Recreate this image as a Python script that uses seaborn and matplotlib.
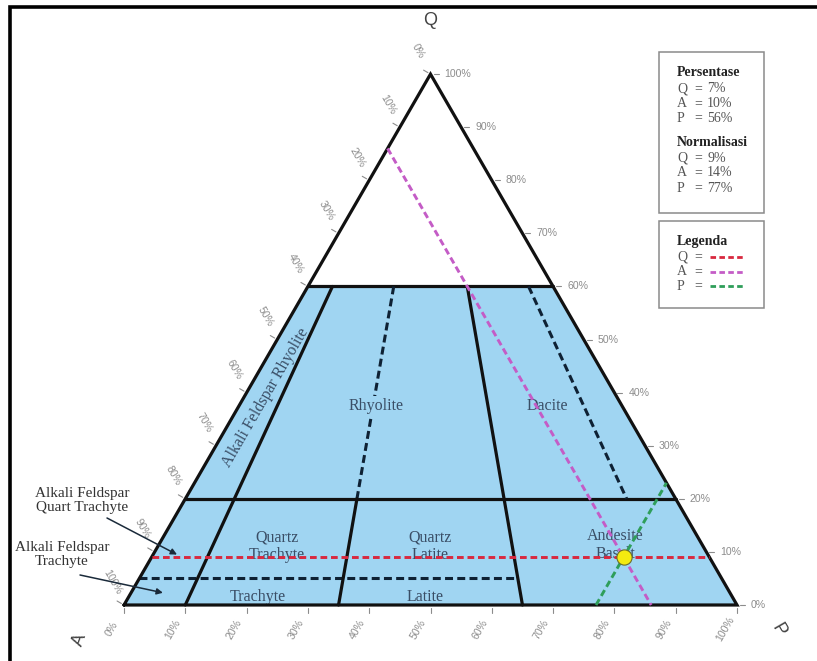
import numpy as np
import pandas as pd
import matplotlib
matplotlib.use("Agg")
import matplotlib.pyplot as plt
from matplotlib.lines import Line2D
from matplotlib.patches import Polygon, Rectangle
import seaborn as sns

# ---- modal composition of the sample (percent) ----
components = ["Q", "A", "P"]
persentase = [7, 10, 56]
normalisasi = [9, 14, 77]

# ---- QAPF field boundaries (Streckeisen) ----
q_field_levels = [60, 20]          # solid horizontal boundaries (Q %)
q_trachyte_level = 5               # dashed boundary Q = 5 %
ratio_solid = [10, 65]             # P/(A+P) %, solid from Q=60 to base
ratio_split = 35                   # dashed Q 60-20, solid Q 20-0
ratio_dashed = 90                  # dashed Q 60-20
tick_values = list(range(0, 101, 10))

field_labels = ["Alkali Feldspar Rhyolite", "Rhyolite", "Dacite",
                "Quartz\nTrachyte", "Quartz\nLatite", "Andesite\nBasalt",
                "Trachyte", "Latite"]
outer_labels = ["Alkali Feldspar\nQuart Trachyte", "Alkali Feldspar\nTrachyte"]

# ---- styling ----
FIELD_BLUE = "#a0d5f2"
DASH_NAVY = "#0e2134"
TEXT_SLATE = "#3a4e66"
TICK_GREY = "#8c8c8c"
line_colors = {"Q": "#d8283f", "A": "#c45cc6", "P": "#2f9e5a"}
SERIF = ["Liberation Serif", "DejaVu Serif"]
SANS = ["Liberation Sans", "DejaVu Sans"]

H = np.sqrt(3) / 2
PX = 1 / 613.0   # one pixel in data units


def tern(q, a, p):
    """Ternary (Q, A, P) -> cartesian, A at (0,0), P at (1,0), Q at top."""
    s = q + a + p
    qn, pn = q / s, p / s
    return pn + qn / 2, qn * H


def ratio_pt(q, r):
    """Point at Q=q (%) on the line of constant P/(A+P)=r (%)."""
    rest = 100 - q
    return tern(q, rest * (1 - r / 100), rest * r / 100)


sns.set_theme(style="white")
plt.rcParams["font.family"] = SANS

fig = plt.figure(figsize=(8.17, 6.61), dpi=100)
ax = fig.add_axes([0, 0, 1, 1])
ax.set_xlim(-124 * PX, 693 * PX)
ax.set_ylim(-56 * PX, 605 * PX)
ax.axis("off")

# ---- blue field area (Q <= 60) ----
qtop = q_field_levels[0]
poly = [tern(0, 100, 0), tern(0, 0, 100), tern(qtop, 0, 100 - qtop), tern(qtop, 100 - qtop, 0)]
ax.add_patch(Polygon(poly, closed=True, facecolor=FIELD_BLUE, edgecolor="none", zorder=1))

# ---- triangle outline ----
outline = [tern(0, 100, 0), tern(0, 0, 100), tern(100, 0, 0), tern(0, 100, 0)]
ax.plot(*zip(*outline), color="#111111", lw=2.3, zorder=4, solid_joinstyle="miter")

# ---- horizontal boundaries ----
for q in q_field_levels:
    p1, p2 = tern(q, 100 - q, 0), tern(q, 0, 100 - q)
    ax.plot([p1[0], p2[0]], [p1[1], p2[1]], color="#111111", lw=2.3, zorder=3)
p1 = ratio_pt(q_trachyte_level, 0)
p2 = ratio_pt(q_trachyte_level, 65)
ax.plot([p1[0], p2[0]], [p1[1], p2[1]], color=DASH_NAVY, lw=2.2, zorder=3,
        dashes=(2.6, 1.4))

# ---- radial boundaries ----
for r in ratio_solid:
    a, b = ratio_pt(60, r), ratio_pt(0, r)
    ax.plot([a[0], b[0]], [a[1], b[1]], color="#111111", lw=2.3, zorder=3)
a, b, c = ratio_pt(60, ratio_split), ratio_pt(20, ratio_split), ratio_pt(0, ratio_split)
ax.plot([a[0], b[0]], [a[1], b[1]], color=DASH_NAVY, lw=2.2, zorder=3, dashes=(2.6, 1.4))
ax.plot([b[0], c[0]], [b[1], c[1]], color="#111111", lw=2.3, zorder=3)
a, b = ratio_pt(60, ratio_dashed), ratio_pt(20, ratio_dashed)
ax.plot([a[0], b[0]], [a[1], b[1]], color=DASH_NAVY, lw=2.2, zorder=3, dashes=(2.6, 1.4))

# ---- field names ----
label_pos = {  # (Q, P) positions in percent, remainder is A
    "Alkali Feldspar Rhyolite": (39.1, 3.6),
    "Rhyolite": (37.4, 22.5),
    "Dacite": (37.4, 50.3),
    "Quartz\nTrachyte": (11.1, 19.4),
    "Quartz\nLatite": (11.1, 44.4),
    "Andesite\nBasalt": (11.3, 74.5),
    "Trachyte": (1.5, 21.1),
    "Latite": (1.5, 48.3),
}
for name in field_labels:
    q, p = label_pos[name]
    x, y = tern(q, 100 - q - p, p)
    kw = dict(ha="center", va="center", fontsize=11.5, color=TEXT_SLATE,
              family=SERIF, zorder=2, linespacing=1.15)
    if name == "Alkali Feldspar Rhyolite":
        kw["rotation"] = 60
    if name == "Rhyolite":
        kw["bbox"] = dict(boxstyle="square,pad=0.15", fc=FIELD_BLUE, ec="none")
        kw["zorder"] = 3.5
    ax.text(x, y, name, **kw)

# ---- composition lines through the normalised point ----
qn, an, pn = normalisasi
segs = {
    "Q": [tern(qn, 100 - qn, 0), tern(qn, 0, 100 - qn)],
    "A": [tern(100 - an, an, 0), tern(0, an, 100 - an)],
    "P": [tern(0, 100 - pn, pn), tern(100 - pn, 0, pn)],
}
rows = []
for k, (s, e) in segs.items():
    rows.append({"line": k, "x": s[0], "y": s[1]})
    rows.append({"line": k, "x": e[0], "y": e[1]})
df_lines = pd.DataFrame(rows)
sns.lineplot(data=df_lines, x="x", y="y", hue="line", style="line",
             palette=line_colors, dashes={k: (2.3, 1.3) for k in components},
             sort=False, estimator=None, units="line", lw=2.1, legend=False,
             ax=ax, zorder=5)

px, py = tern(qn, an, pn)
sns.scatterplot(x=[px], y=[py], s=120, color="#f4ea10", edgecolor="#6b6b2a",
                linewidth=0.8, ax=ax, zorder=6, legend=False)

# ---- axis ticks and labels ----
tick_len = 5 * PX
TICK_FS = 7.6
for v in tick_values:
    # right edge: Q %
    x, y = tern(v, 0, 100 - v)
    ax.plot([x + 3 * PX, x + 3 * PX + tick_len], [y, y], color=TICK_GREY, lw=0.8, zorder=2)
    ax.text(x + 14 * PX, y, f"{v}%", ha="left", va="center", fontsize=TICK_FS,
            color=TICK_GREY)
    # bottom edge: P %
    x, y = tern(0, 100 - v, v)
    ax.plot([x, x], [y - 3 * PX, y - 3 * PX - tick_len], color=TICK_GREY, lw=0.8, zorder=2)
    ax.text(x - 12 * PX, y - 24 * PX, f"{v}%", ha="center", va="center",
            fontsize=TICK_FS, color=TICK_GREY, rotation=60)
    # left edge: A %
    x, y = tern(100 - v, v, 0)
    nx, ny = -np.sqrt(3) / 2, 0.5
    ax.plot([x + nx * 3 * PX, x + nx * (3 * PX + tick_len)],
            [y + ny * 3 * PX, y + ny * (3 * PX + tick_len)], color=TICK_GREY, lw=0.8, zorder=2)
    ax.text(x - 12 * PX, y + 23 * PX, f"{v}%", ha="center", va="center",
            fontsize=TICK_FS, color=TICK_GREY, rotation=-60)

# vertex letters
qx, qy = tern(100, 0, 0)
ax.text(qx, qy + 54 * PX, "Q", ha="center", va="center", fontsize=13, color="#444444")
ax_, ay_ = tern(0, 100, 0)
ax.text(ax_ - 44 * PX, ay_ - 35 * PX, "A", ha="center", va="center", fontsize=13,
        color="#444444", rotation=70)
pvx, pvy = tern(0, 0, 100)
ax.text(pvx + 41 * PX, pvy - 25 * PX, "P", ha="center", va="center", fontsize=13,
        color="#444444", rotation=-60)

# ---- callouts for the narrow alkali-feldspar fields ----
callouts = [
    (outer_labels[0], (82, 501), (107, 518), (9.5, 3.9)),
    (outer_labels[1], (62, 554), (80, 575), (2.3, 5.2)),
]
for text, tpos, apos, (q, p) in callouts:
    fig.text(tpos[0] / 817, 1 - tpos[1] / 661, text, ha="center", va="center",
             fontsize=11, color="#333333", family=SERIF, linespacing=1.1)
    tx, ty = tern(q, 100 - q - p, p)
    ax.annotate("", xy=(tx, ty), xycoords="data",
                xytext=(apos[0] / 817, 1 - apos[1] / 661), textcoords="figure fraction",
                arrowprops=dict(arrowstyle="-|>", color="#1a2a3a", lw=1.1,
                                mutation_scale=9, shrinkA=0, shrinkB=0), zorder=7)

# ---- info boxes ----
def fx(px_):
    return px_ / 817


def fy(py_):
    return 1 - py_ / 661


for (x0, y0, x1, y1) in [(659, 52, 764, 213), (659, 221, 764, 308)]:
    fig.add_artist(Rectangle((fx(x0), fy(y1)), fx(x1) - fx(x0), fy(y0) - fy(y1),
                             transform=fig.transFigure, fill=False, ec="#8a8a8a", lw=1.1))

col_letter, col_eq, col_val = 677, 694, 707
fig.text(fx(col_letter), fy(73), "Persentase", fontsize=10, fontweight="bold",
         family=SERIF, color="#222222", va="center")
for i, (c, v) in enumerate(zip(components, persentase)):
    yy = fy(89 + 14.5 * i)
    fig.text(fx(col_letter), yy, c, fontsize=10, family=SERIF, color="#555555", va="center")
    fig.text(fx(col_eq), yy, "=", fontsize=10, family=SERIF, color="#555555", va="center")
    fig.text(fx(col_val), yy, f"{v}%", fontsize=10, family=SERIF, color="#555555", va="center")
fig.text(fx(col_letter), fy(142), "Normalisasi", fontsize=10, fontweight="bold",
         family=SERIF, color="#222222", va="center")
for i, (c, v) in enumerate(zip(components, normalisasi)):
    yy = fy(158 + 15 * i)
    fig.text(fx(col_letter), yy, c, fontsize=10, family=SERIF, color="#555555", va="center")
    fig.text(fx(col_eq), yy, "=", fontsize=10, family=SERIF, color="#555555", va="center")
    fig.text(fx(col_val), yy, f"{v}%", fontsize=10, family=SERIF, color="#555555", va="center")

fig.text(fx(col_letter), fy(242), "Legenda", fontsize=10, fontweight="bold",
         family=SERIF, color="#222222", va="center")
for i, c in enumerate(components):
    yy = fy(257 + 14.5 * i)
    fig.text(fx(col_letter), yy, c, fontsize=10, family=SERIF, color="#555555", va="center")
    fig.text(fx(col_eq), yy, "=", fontsize=10, family=SERIF, color="#555555", va="center")
    fig.add_artist(Line2D([fx(710), fx(744)], [yy, yy], transform=fig.transFigure,
                          color=line_colors[c], lw=2.0, dashes=(2.0, 1.2)))

# ---- page frame (left and top edges) ----
fig.add_artist(Line2D([fx(10), fx(10), 1.0], [0.0, fy(7), fy(7)],
                      transform=fig.transFigure, color="black", lw=2.6,
                      solid_joinstyle="miter"))

fig.savefig("out.png", dpi=100, facecolor="white")
